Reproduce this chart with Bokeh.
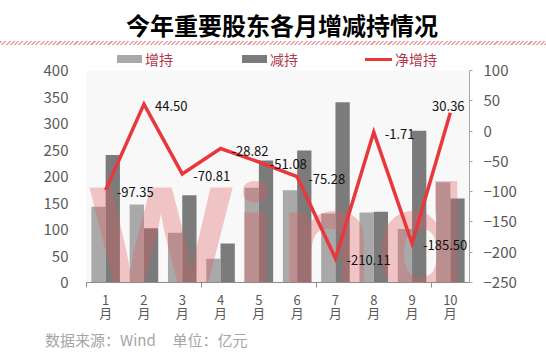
from bokeh.plotting import figure
from bokeh.models import (Range1d, LinearAxis, FixedTicker, Label, ColumnDataSource,
                          CDSView, IndexFilter, Div)
from bokeh.layouts import column
from bokeh.transform import dodge
from bokeh.embed import file_html
from bokeh.resources import INLINE
from bokeh.core.properties import value

# ---------------- data ----------------
months = ["1月", "2月", "3月", "4月", "5月", "6月", "7月", "8月", "9月", "10月"]
increase = [143.0, 147.0, 94.0, 45.0, 179.0, 174.0, 130.0, 132.0, 101.0, 189.0]      # 增持
decrease = [240.35, 102.5, 164.81, 73.82, 230.08, 249.28, 340.11, 133.71, 286.5, 158.64]  # 减持
net = [-97.35, 44.50, -70.81, -28.82, -51.08, -75.28, -210.11, -1.71, -185.50, 30.36]  # 净增持
series_names = ["增持", "减持", "净增持"]
left_ticks = [0, 50, 100, 150, 200, 250, 300, 350, 400]
right_ticks = [-250, -200, -150, -100, -50, 0, 50, 100]
title_text = "今年重要股东各月增减持情况"
footer_text = "数据来源：Wind&nbsp;&nbsp;&nbsp;&nbsp;&nbsp;单位：亿元"

FONT = "Noto Sans CJK SC"
C_INC, C_DEC, C_NET = "#a9a9a9", "#7b7b7b", "#e8383d"
n = len(months)
xc = [i + 0.5 for i in range(n)]
bw = 0.373

# ---------------- header (title + hatched rule + legend) ----------------
lab_style = "position:absolute;top:50px;font-size:14px;line-height:18px;color:#b0384a;"
header = Div(width=546, height=70, margin=0, text=f"""
<div style="position:relative;width:546px;height:70px;font-family:'{FONT}';">
  <div style="position:absolute;top:10px;left:9px;width:546px;text-align:center;
              font-size:24px;font-weight:bold;line-height:30px;color:#000;">{title_text}</div>
  <div style="position:absolute;top:41px;left:0;width:546px;height:4px;
              background:repeating-linear-gradient(-45deg, #f5a0a0 0px, #f5a0a0 1.5px, #ffffff 1.5px, #ffffff 3px);"></div>
  <div style="position:absolute;top:55px;left:117px;width:25px;height:8px;background:{C_INC};"></div>
  <div style="{lab_style}left:145px;">{series_names[0]}</div>
  <div style="position:absolute;top:55px;left:242px;width:25px;height:8px;background:{C_DEC};"></div>
  <div style="{lab_style}left:270px;">{series_names[1]}</div>
  <div style="position:absolute;top:58px;left:365px;width:27px;height:3px;background:{C_NET};"></div>
  <div style="{lab_style}left:395px;">{series_names[2]}</div>
</div>""")

# ---------------- main chart ----------------
# canvas spans y 58..330 of the page: frame 70..282
p = figure(width=546, height=272, output_backend="svg", toolbar_location=None,
           x_range=Range1d(0, n), y_range=Range1d(0, 400), margin=(-12, 0, 0, 0),
           min_border_left=86, min_border_right=77, min_border_top=12, min_border_bottom=48)
p.extra_y_ranges = {"net": Range1d(-250, 100)}
p.background_fill_color = "#f8f8f8"
p.border_fill_color = None
p.outline_line_color = None
p.xgrid.visible = False
p.ygrid.visible = False

src = ColumnDataSource(dict(x=xc, inc=increase, dec=decrease, net=net,
                            lab=[f"{v:.2f}" for v in net]))

r_inc = p.vbar(x=dodge("x", -bw / 2), top="inc", width=bw, source=src,
               fill_color=C_INC, line_color=None)
r_dec = p.vbar(x=dodge("x", bw / 2), top="dec", width=bw, source=src,
               fill_color=C_DEC, line_color=None)
r_net = p.line(x="x", y="net", source=src, y_range_name="net",
               line_color=C_NET, line_width=3.5, line_join="miter")
r_net.level = "overlay"

# value labels
v1 = CDSView(filter=IndexFilter(list(range(n - 1))))
v2 = CDSView(filter=IndexFilter([n - 1]))
t1 = p.text(x="x", y="net", text="lab", source=src, view=v1, y_range_name="net",
            x_offset=11, y_offset=2, text_align="left", text_baseline="middle",
            text_font=value(FONT), text_font_size="13px", text_color="#111111")
t2 = p.text(x="x", y="net", text="lab", source=src, view=v2, y_range_name="net",
            x_offset=-2, y_offset=-7, text_align="center", text_baseline="middle",
            text_font=value(FONT), text_font_size="13px", text_color="#111111")
t1.level = "overlay"
t2.level = "overlay"

# left axis
ya = p.yaxis[0]
ya.ticker = FixedTicker(ticks=left_ticks)
ya.axis_line_color = None
ya.major_tick_out = 0
ya.major_tick_in = 0
ya.minor_tick_line_color = None
ya.major_label_standoff = 18
ya.major_label_text_font = FONT
ya.major_label_text_font_size = "15px"
ya.major_label_text_color = "#595959"

# right axis
ra = LinearAxis(y_range_name="net", ticker=FixedTicker(ticks=right_ticks))
ra.axis_line_color = "#a6a6a6"
ra.major_tick_line_color = "#a6a6a6"
ra.major_tick_out = 3
ra.major_tick_in = 0
ra.minor_tick_line_color = None
ra.major_label_standoff = 11
ra.major_label_text_font = FONT
ra.major_label_text_font_size = "15px"
ra.major_label_text_color = "#595959"
p.add_layout(ra, "right")

# bottom axis: tick marks every 3 categories
xa = p.xaxis[0]
xa.ticker = FixedTicker(ticks=[0, 3, 6, 9])
xa.major_label_overrides = {0: "", 3: "", 6: "", 9: ""}
xa.major_label_text_font_size = "0px"
xa.major_label_standoff = 0
xa.axis_line_color = "#8c8c8c"
xa.major_tick_line_color = "#8c8c8c"
xa.major_tick_out = 5
xa.major_tick_in = 0
xa.minor_tick_line_color = None

# bottom axis: month labels (stacked vertical text)
la = LinearAxis(ticker=FixedTicker(ticks=xc))
la.major_label_overrides = {x: (m[:-1] + "\n" + m[-1]) for x, m in zip(xc, months)}
la.axis_line_color = None
la.major_tick_line_color = None
la.minor_tick_line_color = None
la.major_tick_out = 0
la.major_label_standoff = 2
la.major_label_text_font = FONT
la.major_label_text_font_size = "13px"
la.major_label_text_line_height = 0.7
la.major_label_text_color = "#595959"
p.add_layout(la, "below")

# watermark (kept inside the plot area so it is not clipped)
wm = Label(x=3, y=47, x_units="screen", y_units="screen", text="Wind",
           text_font="Open Sans", text_font_style="bold", text_font_size="148px",
           text_color="#e05a5a", text_alpha=0.33, text_baseline="alphabetic")
p.add_layout(wm)

# ---------------- footer ----------------
footer = Div(width=546, height=28, margin=(-4, 0, 0, 0), text=f"""
<div style="position:relative;width:546px;height:28px;font-family:'{FONT}';">
  <div style="position:absolute;top:4px;left:45px;font-size:15px;line-height:20px;
              color:#a6a6a6;white-space:nowrap;">{footer_text}</div>
</div>""")

layout = column(header, p, footer, spacing=0)
open("out.html", "w").write(file_html(layout, INLINE))
